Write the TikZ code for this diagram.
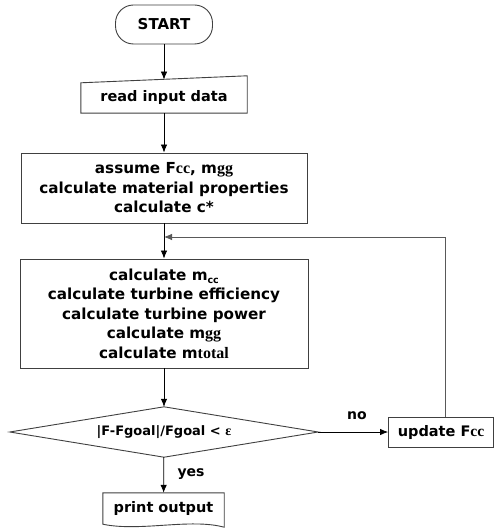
\documentclass[tikz,border=0pt]{standalone}
\usepackage{fontspec}
\setmainfont{DejaVu Sans}
\newfontfamily\tms{Liberation Serif}
\usetikzlibrary{arrows.meta,calc}
\begin{document}
\begin{tikzpicture}[x=1pt,y=-1pt,
  txt/.style={font=\bfseries\fontsize{14.5}{19.5}\selectfont, align=center, inner sep=0pt},
  bigtxt/.style={font=\bfseries\fontsize{15.2}{19.5}\selectfont, align=center, inner sep=0pt},
  outline/.style={draw=black!75, line width=0.9pt},
  conn/.style={draw=black, line width=0.8pt, -{Latex[length=8pt,width=6.5pt]}},
  lbl/.style={font=\bfseries\fontsize{14}{16}\selectfont, inner sep=0pt}]
\useasboundingbox[fill=white] (0,0) rectangle (494,529);

% START
\node[txt, outline, rounded corners=18pt, minimum width=97pt, minimum height=39pt,
      font=\bfseries\fontsize{15}{18}\selectfont] (start) at (164,24.5) {START};

% read input data (manual input shape)
\node[txt, minimum width=166pt, minimum height=30pt] (read) at (164,98) {read input data};
\draw[outline] (read.south west) -- (read.south east) -- ($(read.north east)+(0,-7)$) -- (read.north west) -- cycle;
\coordinate (readtop) at (164,79.6);

% box 3
\node[bigtxt, outline, minimum width=286pt, minimum height=70pt] (calc1) at (164,188)
  {assume F{\tms\fontsize{16}{19.5}\selectfont cc}, m{\tms\fontsize{16}{19.5}\selectfont gg}\\calculate material properties\\calculate c*};

% box 4
\node[bigtxt, outline, minimum width=288pt, minimum height=109pt] (calc2) at (164,313.5)
  {calculate m\raisebox{-3pt}{\fontsize{9.5}{9.5}\selectfont cc}\\calculate turbine efficiency\\calculate turbine power\\calculate m{\tms\fontsize{16}{19.5}\selectfont gg}\\calculate m{\tms\fontsize{16}{19.5}\selectfont total}};

% decision
\node[font=\bfseries\fontsize{13}{15}\selectfont, minimum width=308pt, minimum height=50pt, inner sep=0pt] (dec) at (164,432)
  {|F-Fgoal|/Fgoal < {\tms\fontsize{14}{15}\selectfont ε}};
\draw[outline] (dec.west) -- (dec.north) -- (dec.east) -- (dec.south) -- cycle;

% update
\node[txt, outline, minimum width=105pt, minimum height=30pt] (upd) at (441,432) {update F{\tms\fontsize{15.5}{19}\selectfont cc}};

% print output (document shape)
\node[txt, minimum width=121pt, minimum height=31pt] (prt) at (163.5,508.5) {print output};
\draw[outline] (prt.south west) -- (prt.north west) -- (prt.north east) -- ($(prt.south east)+(0,3)$)
  .. controls (190,518) and (140,532) .. (prt.south west) -- cycle;

% labels
\node[lbl] (no) at (357,416) {no};
\node[lbl] (yes) at (191,474) {yes};

% connectors
\coordinate (fb) at (164,237);
\coordinate (fbr) at (445,237);
\draw[conn] (start) -- (readtop);
\draw[conn] (read) -- (calc1);
\draw[conn] (calc1) -- (calc2);
\draw[conn] (calc2) -- (dec);
\draw[conn] (dec) -- (prt);
\draw[conn] (dec) -- (upd);
\draw[conn, draw=black!65] (upd.north -| fbr) -- (fbr) -- (fb);
\end{tikzpicture}
\end{document}
